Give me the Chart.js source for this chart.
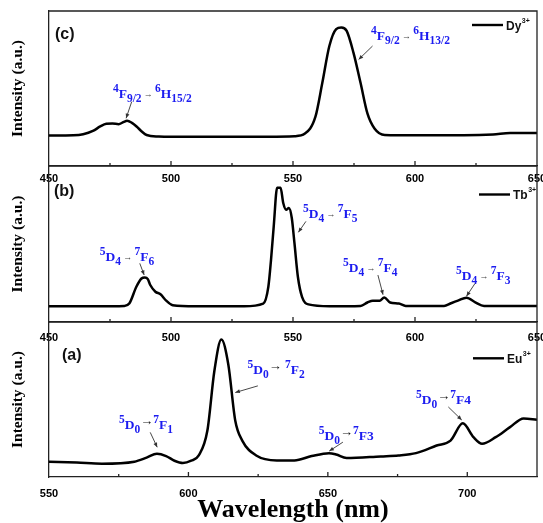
<!DOCTYPE html>
<html>
<head>
<meta charset="utf-8">
<script src="https://cdn.jsdelivr.net/npm/chart.js@4.4.1/dist/chart.umd.min.js"></script>
<style>
  html, body { margin: 0; padding: 0; background: #fff; overflow: hidden; }
  #wrap { position: relative; width: 543px; height: 523px; overflow: hidden; }
  #wrap canvas { position: absolute; left: 0; }
</style>
</head>
<body>
<div id="wrap">
  <canvas id="dyChart" width="580" height="190" style="top:0px"></canvas>
  <canvas id="tbChart" width="580" height="200" style="top:150px"></canvas>
  <canvas id="euChart" width="580" height="223" style="top:300px"></canvas>
</div>
<script>
// (c) Dy3+
const dyWave = [450, 460, 464, 468, 471, 473.5, 476, 478.5, 480.5, 482, 484, 486, 488, 490, 495, 500, 520, 540, 550.6, 554.9, 559.2, 562, 564.9, 567.7, 569.8, 572, 574.8, 577.7, 580.5, 583.4, 587.6, 600, 620, 632, 639, 645, 650];
const dyInt  = [19.6, 19.8, 20.5, 22.6, 25.5, 27.2, 27.4, 27.0, 28.3, 29.2, 27.8, 25.3, 22.3, 20.0, 19.0, 18.8, 18.8, 18.9, 19.2, 20.9, 31.8, 53.5, 77.4, 88.3, 89.4, 87.2, 73.0, 53.5, 33.9, 24.2, 20.0, 19.8, 19.8, 20.3, 21.3, 21.3, 21.3];
// (b) Tb3+
const tbWave = [450, 470, 480.8, 482.9, 485.8, 487.9, 489.3, 490.5, 491.5, 493.6, 495.7, 497.9, 500.7, 510, 530, 537.8, 539.9, 541, 542.1, 543.5, 544.9, 546, 547.2, 548.3, 549.5, 550.6, 552, 553.7, 556.3, 565, 577.7, 580.5, 582.7, 585.5, 587.4, 589.8, 593.4, 596.2, 611.9, 614.7, 617.6, 621.1, 624.7, 628.3, 640, 650];
const tbInt  = [10.1, 10.1, 10.3, 11.8, 22.6, 27.9, 28.6, 27.5, 23.7, 19.4, 17.8, 13.9, 10.8, 10.1, 10.1, 11.8, 22.6, 40.0, 61.3, 86.0, 86.0, 76.3, 72.0, 73.1, 66.7, 50.5, 29.0, 16.1, 11.3, 10.1, 10.3, 12.5, 13.7, 13.7, 15.7, 12.5, 11.8, 10.3, 10.3, 12.0, 13.7, 15.6, 12.6, 10.3, 10.3, 10.3];
// (a) Eu3+
const euWave = [550, 560, 569, 580.6, 585, 588.7, 592, 595, 598, 601, 603.7, 606.8, 609.3, 611.8, 614.3, 616.8, 619.3, 624.3, 631.7, 638, 644.2, 650.4, 653, 656.7, 669, 675.3, 681.6, 689, 694, 698.4, 702.2, 705.3, 710.2, 715.2, 720.2, 725];
const euInt  = [9.9, 9.3, 8.6, 9.9, 12.5, 15.0, 13.5, 10.5, 9.0, 10.5, 13.9, 30.0, 68.4, 88.7, 72.6, 36.3, 23.5, 13.9, 10.7, 10.7, 13.5, 15.4, 14.5, 12.2, 13.3, 13.9, 15.4, 20.3, 23.5, 34.6, 25.7, 21.4, 25.7, 32.0, 37.8, 37.0];

const dyTicks = [450, 500, 550, 600, 650];
const tbTicks = [450, 500, 550, 600, 650];
const euTicks = [550, 600, 650, 700];

const serif = '"Liberation Serif", "Times New Roman", serif';
const sans = '"Liberation Sans", Arial, sans-serif';

function drawRich(ctx, x, y, parts, st) {
  ctx.textBaseline = 'alphabetic';
  for (const [t, k] of parts) {
    let size = st.size, dy = 0, color = st.color;
    if (k === 'p') { size = st.small; dy = -st.size * 0.45; }
    else if (k === 'b') { size = st.small; dy = st.size * 0.28; }
    else if (k === 'a') { size = st.arrowSize; color = st.arrowColor; dy = st.arrowDy; }
    ctx.font = `bold ${size}px ${serif}`;
    ctx.fillStyle = color;
    ctx.fillText(t, x, y + dy);
    x += ctx.measureText(t).width;
  }
}

function drawArrow(ctx, x1, y1, x2, y2) {
  ctx.strokeStyle = '#333';
  ctx.fillStyle = '#333';
  ctx.lineWidth = 0.9;
  ctx.beginPath(); ctx.moveTo(x1, y1); ctx.lineTo(x2, y2); ctx.stroke();
  const ang = Math.atan2(y2 - y1, x2 - x1), h = 5;
  ctx.beginPath();
  ctx.moveTo(x2, y2);
  ctx.lineTo(x2 - h * Math.cos(ang - 0.4), y2 - h * Math.sin(ang - 0.4));
  ctx.lineTo(x2 - h * Math.cos(ang + 0.4), y2 - h * Math.sin(ang + 0.4));
  ctx.closePath(); ctx.fill();
}

// frame, inward ticks, panel tag, legend and transition labels
const decor = {
  id: 'decor',
  afterDraw(chart, args, o) {
    const { ctx, chartArea: a, scales: { x, y } } = chart;
    ctx.save();
    ctx.strokeStyle = '#222';
    ctx.lineWidth = 1.3;
    ctx.beginPath();
    ctx.moveTo(a.left, a.top); ctx.lineTo(a.right, a.top); ctx.lineTo(a.right, a.bottom);
    ctx.stroke();
    for (let v = x.min + 25; v < x.max; v += 25) {
      const px = x.getPixelForValue(v);
      const len = (v - x.min) % 50 === 0 ? 5 : 3;
      ctx.beginPath(); ctx.moveTo(px, a.bottom); ctx.lineTo(px, a.bottom - len); ctx.stroke();
    }
    ctx.fillStyle = '#111';
    ctx.font = `bold 16px ${sans}`;
    ctx.textBaseline = 'alphabetic';
    ctx.fillText(o.tag, a.left + o.tagAt[0], a.top + o.tagAt[1]);

    // legend
    const lx = o.legendAt[0], ly = a.top + o.legendAt[1];
    ctx.strokeStyle = '#000';
    ctx.lineWidth = 2.4;
    ctx.beginPath(); ctx.moveTo(lx, ly); ctx.lineTo(lx + 31, ly); ctx.stroke();
    ctx.fillStyle = '#111';
    ctx.font = `bold 12px ${sans}`;
    ctx.fillText(o.ion, lx + 34, ly + 4.5);
    const w = ctx.measureText(o.ion).width;
    ctx.font = `bold 7px ${sans}`;
    ctx.fillText('3+', lx + 34 + w + 0.5, ly - 2.5);

    for (const n of o.notes) {
      drawRich(ctx, x.getPixelForValue(n.at[0]), y.getPixelForValue(n.at[1]), n.parts, o.style);
      drawArrow(ctx, x.getPixelForValue(n.from[0]), y.getPixelForValue(n.from[1]),
                x.getPixelForValue(n.to[0]), y.getPixelForValue(n.to[1]));
    }
    ctx.restore();
  }
};

const smallArrow = { size: 13.5, small: 11.5, color: '#1c1cf0', arrowSize: 9, arrowColor: '#444', arrowDy: -1 };
const bigArrow = { size: 13.5, small: 11.5, color: '#1c1cf0', arrowSize: 13, arrowColor: '#111', arrowDy: -4 };

const dyNotes = [
  { parts: [['4', 'p'], ['F', 'n'], ['9/2', 'b'], [' \u2192 ', 'a'], ['6', 'p'], ['H', 'n'], ['15/2', 'b']],
    at: [476.2, 43.9], from: [483.9, 41.5], to: [481.6, 30.8] },
  { parts: [['4', 'p'], ['F', 'n'], ['9/2', 'b'], [' \u2192 ', 'a'], ['6', 'p'], ['H', 'n'], ['13/2', 'b']],
    at: [582, 81], from: [582.6, 77.4], to: [576.9, 68.7] }
];
const tbNotes = [
  { parts: [['5', 'p'], ['D', 'n'], ['4', 'b'], [' \u2192 ', 'a'], ['7', 'p'], ['F', 'n'], ['6', 'b']],
    at: [470.8, 39.1], from: [487.2, 37.6], to: [489, 30.1] },
  { parts: [['5', 'p'], ['D', 'n'], ['4', 'b'], [' \u2192 ', 'a'], ['7', 'p'], ['F', 'n'], ['5', 'b']],
    at: [554.1, 66.7], from: [555.3, 64.5], to: [552.2, 57.5] },
  { parts: [['5', 'p'], ['D', 'n'], ['4', 'b'], [' \u2192 ', 'a'], ['7', 'p'], ['F', 'n'], ['4', 'b']],
    at: [570.5, 32.2], from: [584.8, 30.1], to: [586.9, 17.5] },
  { parts: [['5', 'p'], ['D', 'n'], ['4', 'b'], [' \u2192 ', 'a'], ['7', 'p'], ['F', 'n'], ['3', 'b']],
    at: [616.8, 26.9], from: [624.6, 24.7], to: [621.1, 16.5] }
];
const euNotes = [
  { parts: [['5', 'p'], ['D', 'n'], ['0', 'b'], ['\u2192', 'a'], ['7', 'p'], ['F', 'n'], ['1', 'b']],
    at: [575.1, 31], from: [586.3, 28.8], to: [588.8, 19.2] },
  { parts: [['5', 'p'], ['D', 'n'], ['0', 'b'], ['\u2192 ', 'a'], ['7', 'p'], ['F', 'n'], ['2', 'b']],
    at: [621.2, 66.3], from: [624.9, 58.8], to: [616.8, 54.5] },
  { parts: [['5', 'p'], ['D', 'n'], ['0', 'b'], ['\u2192', 'a'], ['7', 'p'], ['F3', 'n']],
    at: [646.7, 23.9], from: [655.4, 22.5], to: [650.5, 16.7] },
  { parts: [['5', 'p'], ['D', 'n'], ['0', 'b'], ['\u2192', 'a'], ['7', 'p'], ['F4', 'n']],
    at: [681.6, 47.1], from: [693.2, 45.2], to: [698, 36.8] }
];

function makeChart(id, wave, inten, xTicks, xMin, xMax, padTop, axisH, tickPad, decorOpts, xTitle) {
  return new Chart(document.getElementById(id), {
    type: 'line',
    data: {
      datasets: [{
        data: wave.map((w, i) => ({ x: w, y: inten[i] })),
        borderColor: '#000',
        borderWidth: 2.5,
        pointRadius: 0,
        cubicInterpolationMode: 'monotone',
        fill: false
      }]
    },
    options: {
      responsive: false,
      animation: false,
      events: [],
      layout: { padding: { top: padTop, right: 43, left: 0, bottom: 0 } },
      plugins: { legend: { display: false }, tooltip: { enabled: false }, decor: decorOpts },
      scales: {
        x: {
          type: 'linear', min: xMin, max: xMax,
          afterBuildTicks: s => { s.ticks = xTicks.map(v => ({ value: v })); },
          afterFit: s => { s.height = axisH; },
          grid: { display: false, drawTicks: false },
          border: { display: true, color: '#222', width: 1.3 },
          ticks: { color: '#000', padding: tickPad, maxRotation: 0, autoSkip: false,
                   font: { family: sans, size: 11, weight: 'bold' } },
          title: xTitle
            ? { display: true, text: xTitle, color: '#000', padding: { top: 0, bottom: 0 },
                font: { family: serif, size: 26, weight: 'bold', lineHeight: 1.0 } }
            : { display: false }
        },
        y: {
          min: 0, max: 100,
          afterFit: s => { s.width = 49; },
          grid: { display: false, drawTicks: false },
          border: { display: true, color: '#222', width: 1.3 },
          ticks: { display: false },
          title: { display: true, text: 'Intensity (a.u.)', color: '#000',
                   padding: { top: 9, bottom: 0 },
                   font: { family: serif, size: 15.5, weight: 'bold' } }
        }
      }
    },
    plugins: [decor]
  });
}

makeChart('dyChart', dyWave, dyInt, dyTicks, 450, 650, 11, 24, 6,
  { tag: '(c)', tagAt: [6, 28], ion: 'Dy', legendAt: [472, 14], notes: dyNotes, style: smallArrow });
makeChart('tbChart', tbWave, tbInt, tbTicks, 450, 650, 16, 28, 9,
  { tag: '(b)', tagAt: [5, 30], ion: 'Tb', legendAt: [479, 28.5], notes: tbNotes, style: smallArrow });
makeChart('euChart', euWave, euInt, euTicks, 550, 725, 22, 46, 10,
  { tag: '(a)', tagAt: [13, 38], ion: 'Eu', legendAt: [473, 36.3], notes: euNotes, style: bigArrow },
  'Wavelength (nm)');
</script>
</body>
</html>
